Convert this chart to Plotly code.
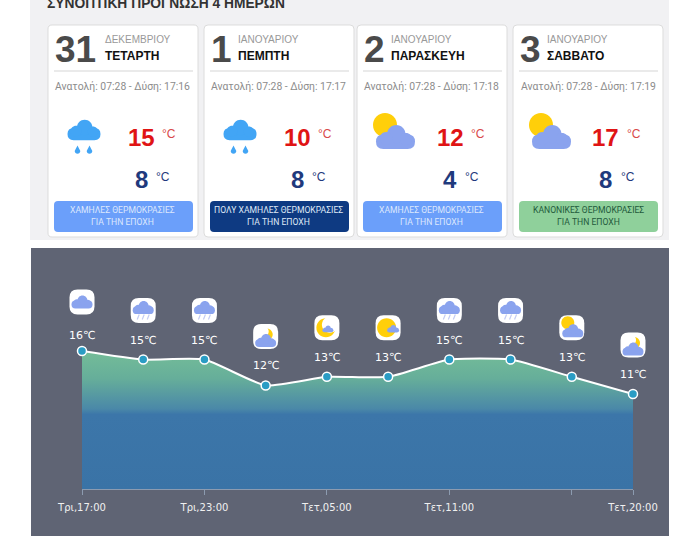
import plotly.graph_objects as go

W, H = 700, 536

# cards
days = ["31", "1", "2", "3"]
months = ["ΔΕΚΕΜΒΡΙΟΥ", "ΙΑΝΟΥΑΡΙΟΥ", "ΙΑΝΟΥΑΡΙΟΥ", "ΙΑΝΟΥΑΡΙΟΥ"]
weekdays = ["ΤΕΤΑΡΤΗ", "ΠΕΜΠΤΗ", "ΠΑΡΑΣΚΕΥΗ", "ΣΑΒΒΑΤΟ"]
sunsets = ["17:16", "17:17", "17:18", "17:19"]
highs = [15, 10, 12, 17]
lows = [8, 8, 4, 8]
card_icons = ["rain", "rain", "suncloud", "suncloud"]
badges = [
    "ΧΑΜΗΛΕΣ ΘΕΡΜΟΚΡΑΣΙΕΣ",
    "ΠΟΛΥ ΧΑΜΗΛΕΣ ΘΕΡΜΟΚΡΑΣΙΕΣ",
    "ΧΑΜΗΛΕΣ ΘΕΡΜΟΚΡΑΣΙΕΣ",
    "ΚΑΝΟΝΙΚΕΣ ΘΕΡΜΟΚΡΑΣΙΕΣ",
]
badge_colors = ["#6b9ffa", "#0e3a82", "#6b9ffa", "#8fd09b"]
badge_text_colors = ["#dce7fd", "#dfe8f6", "#dce7fd", "#1f5a3c"]
card_lefts = [48, 204, 357, 513]

# hourly chart
hours = ["Τρι,17:00", "Τρι,20:00", "Τρι,23:00", "Τετ,02:00", "Τετ,05:00",
         "Τετ,08:00", "Τετ,11:00", "Τετ,14:00", "Τετ,17:00", "Τετ,20:00"]
temps = [16, 15, 15, 12, 13, 13, 15, 15, 13, 11]
hour_icons = ["cloud", "rain", "snow", "mooncloud", "moon", "sunsmall",
              "rain", "rain", "suncloud", "mooncloud"]
tick_idx = [0, 2, 4, 6, 8, 9]
tick_labels = ["Τρι,17:00", "Τρι,23:00", "Τετ,05:00", "Τετ,11:00", "", "Τετ,20:00"]

PLOT_L, PLOT_R, PLOT_B, PLOT_T = 82, 633, 489, 270
PX_PER_DEG = 8.63

CLOUD_BLUE = "#42a5f5"
CLOUD_LILAC = "#8aa3ee"
SUN = "#ffcf0a"


def X(v):
    return round(v / W, 5)


def Y(v):
    return round(1 - v / H, 5)


def circle(cx, cy, r):
    k = 0.5523 * r
    return (f"M{X(cx - r)},{Y(cy)} "
            f"C{X(cx - r)},{Y(cy - k)} {X(cx - k)},{Y(cy - r)} {X(cx)},{Y(cy - r)} "
            f"C{X(cx + k)},{Y(cy - r)} {X(cx + r)},{Y(cy - k)} {X(cx + r)},{Y(cy)} "
            f"C{X(cx + r)},{Y(cy + k)} {X(cx + k)},{Y(cy + r)} {X(cx)},{Y(cy + r)} "
            f"C{X(cx - k)},{Y(cy + r)} {X(cx - r)},{Y(cy + k)} {X(cx - r)},{Y(cy)} Z")


def drop(cx, cy, r):
    # round belly with a point on top
    k = 0.5523 * r
    return (f"M{X(cx)},{Y(cy - 2 * r)} "
            f"L{X(cx + r)},{Y(cy)} "
            f"C{X(cx + r)},{Y(cy + k)} {X(cx + k)},{Y(cy + r)} {X(cx)},{Y(cy + r)} "
            f"C{X(cx - k)},{Y(cy + r)} {X(cx - r)},{Y(cy + k)} {X(cx - r)},{Y(cy)} Z")


def rrect(x0, y0, x1, y1, r):
    return (f"M{X(x0 + r)},{Y(y0)} L{X(x1 - r)},{Y(y0)} Q{X(x1)},{Y(y0)} {X(x1)},{Y(y0 + r)} "
            f"L{X(x1)},{Y(y1 - r)} Q{X(x1)},{Y(y1)} {X(x1 - r)},{Y(y1)} "
            f"L{X(x0 + r)},{Y(y1)} Q{X(x0)},{Y(y1)} {X(x0)},{Y(y1 - r)} "
            f"L{X(x0)},{Y(y0 + r)} Q{X(x0)},{Y(y0)} {X(x0 + r)},{Y(y0)} Z")


shapes = []


def add(path, fill, line=None, width=0):
    shapes.append(dict(type="path", path=path, xref="paper", yref="paper", fillcolor=fill,
                       line=dict(color=line or fill, width=width), layer="below"))


def cloud(cx, cy, w, color):
    # cx,cy is the middle of the cloud, w its full width
    # plotly fills paths evenodd, so each lobe has to be its own shape
    h = w * 0.62
    bottom = cy + h / 2
    r_base = h * 0.3
    add(rrect(cx - w / 2, bottom - 2 * r_base, cx + w / 2, bottom, r_base), color)
    add(circle(cx + w * 0.02, cy - h * 0.12, h * 0.38), color)
    add(circle(cx - w * 0.24, cy + h * 0.06, h * 0.27), color)
    add(circle(cx + w * 0.27, cy + h * 0.08, h * 0.25), color)


def stroke(x0, y0, x1, y1, color, width=1):
    shapes.append(dict(type="line", x0=X(x0), y0=Y(y0), x1=X(x1), y1=Y(y1), xref="paper",
                       yref="paper", line=dict(color=color, width=width), layer="below"))


def hour_icon(kind, cx, cy):
    add(rrect(cx - 12.5, cy - 12.5, cx + 12.5, cy + 12.5, 8), "#ffffff")
    if kind == "cloud":
        cloud(cx, cy, 21, CLOUD_LILAC)
    elif kind in ("rain", "snow"):
        cloud(cx, cy - 3, 21, CLOUD_LILAC)
        for dx in (-5, 0, 5):
            stroke(cx + dx + 1, cy + 4, cx + dx - 1, cy + 9, "#c3ccf4", 1.2)
    elif kind == "mooncloud":
        add(circle(cx + 1, cy - 2, 6), SUN)
        add(circle(cx - 3, cy - 5, 6), "#ffffff")
        cloud(cx, cy + 4, 21, CLOUD_LILAC)
    elif kind == "moon":
        add(circle(cx - 1, cy, 9.5), SUN)
        add(circle(cx + 3, cy - 3, 8), "#ffffff")
        cloud(cx + 1, cy + 1, 11, CLOUD_LILAC)
    elif kind == "sunsmall":
        add(circle(cx - 1.5, cy, 9.5), SUN)
        cloud(cx + 5, cy + 1, 12, CLOUD_LILAC)
    elif kind == "suncloud":
        add(circle(cx - 4, cy - 5, 6.5), SUN)
        cloud(cx + 1, cy + 3, 21, CLOUD_LILAC)


def note(x, y, text, size, color, family="Liberation Sans", bold=False, anchor="left"):
    if bold:
        text = f"<b>{text}</b>"
    return dict(x=X(x), y=Y(y), xref="paper", yref="paper", text=text, showarrow=False,
                xanchor=anchor, yanchor="middle", align="center", borderpad=0,
                font=dict(size=size, color=color, family=family))


# page panels
add(rrect(30, -5, 669, 240, 0.01), "#f1f1f3")
add(rrect(31, 248, 669, 540, 0.01), "#5f6474")

annotations = [note(46, 4, "ΣΥΝΟΠΤΙΚΗ ΠΡΟΓΝΩΣΗ 4 ΗΜΕΡΩΝ", 13.8, "#333333", bold=True)]

for i, left in enumerate(card_lefts):
    add(rrect(left, 25, left + 150, 237, 4), "#ffffff", "#dcdcdc", 1)
    stroke(left + 6, 71, left + 145, 71, "#e3e3e3", 1.5)
    add(rrect(left + 6, 201, left + 145, 232, 4), badge_colors[i])

    text_x = left + (56 if i == 0 else 32.5)
    annotations += [
        note(left + 6, 49, days[i], 37, "#4a4a4a", bold=True),
        note(text_x, 39.5, months[i], 10, "#999999"),
        note(text_x, 56, weekdays[i], 12, "#111111", bold=True),
        note(left + 75, 87, f"Ανατολή: 07:28 - Δύση: {sunsets[i]}", 10.4, "#8c8c8c",
             family="Roboto", anchor="center"),
        note(left + 93, 137, highs[i], 24, "#e01414", bold=True, anchor="center"),
        note(left + 113, 134, "°C", 12, "#d84a4a"),
        note(left + 93, 179, lows[i], 24, "#1f3a7d", bold=True, anchor="center"),
        note(left + 107, 177, "°C", 12, "#1f3a7d"),
        note(left + 75, 209.7, badges[i], 8.6, badge_text_colors[i], family="Roboto",
             anchor="center"),
        note(left + 75, 222.3, "ΓΙΑ ΤΗΝ ΕΠΟΧΗ", 8.6, badge_text_colors[i], family="Roboto",
             anchor="center"),
    ]

    if card_icons[i] == "rain":
        cloud(left + 36, 130, 33, CLOUD_BLUE)
        for dx in (-6, 6):
            add(drop(left + 36 + dx - 0.5, 151, 2.8), CLOUD_BLUE)
    else:
        add(circle(left + 28, 125, 12), SUN)
        cloud(left + 38.5, 137, 39, CLOUD_LILAC)

# icons float a fixed distance over each point of the line
step = (PLOT_R - PLOT_L) / (len(hours) - 1)
for i, kind in enumerate(hour_icons):
    hour_icon(kind, PLOT_L + i * step, PLOT_B - temps[i] * PX_PER_DEG - 49)

# temperature labels sit on the data points, the first one a bit lower
for i, (hour, temp) in enumerate(zip(hours, temps)):
    annotations.append(dict(x=hour, y=temp, xref="x", yref="y", text=f"{temp}℃",
                            showarrow=False, yshift=15.5 if i == 0 else 19.5,
                            xanchor="center", yanchor="middle",
                            font=dict(size=11, color="#ffffff", family="DejaVu Sans")))

fig = go.Figure(go.Scatter(
    x=hours,
    y=temps,
    mode="lines+markers",
    line=dict(color="#ffffff", width=2, shape="spline", smoothing=0.5),
    marker=dict(size=9, color="#2a9cc4", line=dict(color="#ffffff", width=1.5)),
    fill="tozeroy",
    fillgradient=dict(
        type="vertical",
        start=16,
        stop=0,
        colorscale=[[0, "#74bd98"], [0.2, "#66ae9a"], [0.42, "#4a88a8"],
                    [0.46, "#3c76a9"], [1, "#3a73a6"]],
    ),
    cliponaxis=False,
    hoverinfo="skip",
))

fig.update_layout(
    width=W,
    height=H,
    autosize=False,
    margin=dict(l=0, r=0, t=0, b=0),
    paper_bgcolor="#ffffff",
    plot_bgcolor="rgba(0,0,0,0)",
    showlegend=False,
    shapes=shapes,
    annotations=annotations,
    xaxis=dict(
        domain=[PLOT_L / W, PLOT_R / W],
        type="category",
        categoryorder="array",
        categoryarray=hours,
        range=[0, len(hours) - 1],
        tickmode="array",
        tickvals=[hours[i] for i in tick_idx],
        ticktext=tick_labels,
        ticks="outside",
        ticklen=5,
        tickwidth=1,
        tickcolor="#8c9bb0",
        showline=True,
        linecolor="#8c9bb0",
        linewidth=1,
        showgrid=False,
        zeroline=False,
        automargin=False,
        tickangle=0,
        ticklabelstandoff=4,
        tickfont=dict(size=10, color="#f0f0f0", family="DejaVu Sans"),
    ),
    yaxis=dict(
        domain=[1 - PLOT_B / H, 1 - PLOT_T / H],
        range=[0, (PLOT_B - PLOT_T) / PX_PER_DEG],
        visible=False,
        automargin=False,
    ),
)

fig.write_html("out.html", config={"displayModeBar": False},
               post_script="document.body.style.margin='0';")
